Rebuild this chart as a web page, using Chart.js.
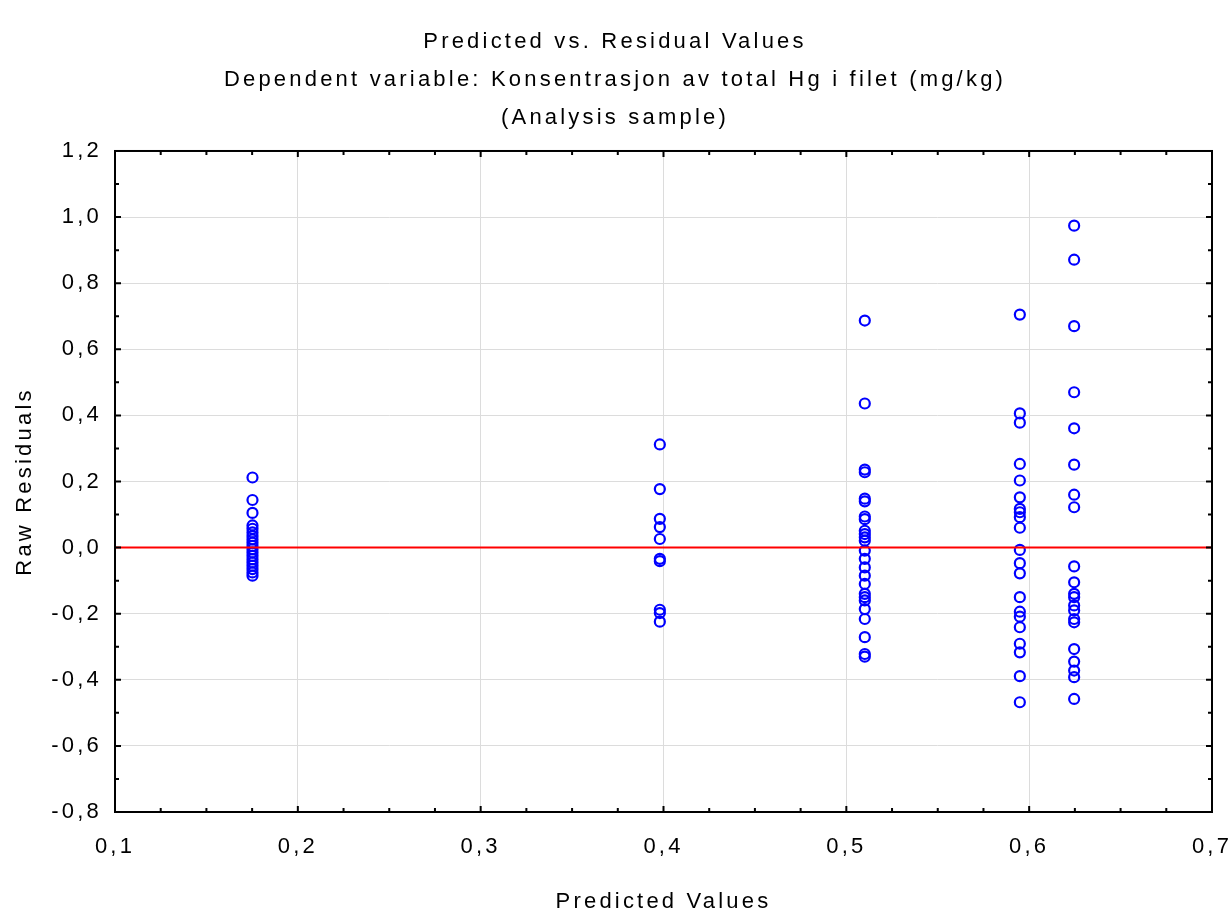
<!DOCTYPE html>
<html>
<head>
<meta charset="utf-8">
<script src="https://cdn.jsdelivr.net/npm/chart.js@4/dist/chart.umd.min.js"></script>
<style>
  html, body { margin: 0; padding: 0; background: #fff; }
  #wrap { width: 1230px; height: 908px; }
</style>
</head>
<body>
<div id="wrap"><canvas id="chart" width="1230" height="908"></canvas></div>
<script>
// predicted value of each group (x) and the raw residuals (y)
const predicted = [0.1752, 0.398, 0.5101, 0.5949, 0.6246];
const resid1 = [0.212, 0.144, 0.105, 0.067, 0.057, 0.046, 0.035, 0.025, 0.015, 0.005, -0.005, -0.015,
  -0.025, -0.035, -0.045, -0.055, -0.065, -0.075, -0.085];
const resid2 = [0.312, 0.177, 0.087, 0.062, 0.026, -0.034, -0.041, -0.188, -0.198, -0.224];
const resid3 = [0.687, 0.436, 0.236, 0.228, 0.148, 0.14, 0.094, 0.086, 0.051, 0.041, 0.031, 0.021,
  -0.009, -0.034, -0.06, -0.085, -0.11, -0.14, -0.15, -0.16, -0.186, -0.216, -0.271, -0.322, -0.33];
const resid4 = [0.705, 0.406, 0.378, 0.253, 0.203, 0.152, 0.117, 0.107, 0.092, 0.06, -0.007, -0.047,
  -0.078, -0.15, -0.194, -0.209, -0.241, -0.291, -0.317, -0.389, -0.468];
const resid5 = [0.974, 0.871, 0.67, 0.47, 0.361, 0.251, 0.16, 0.122, -0.057, -0.105, -0.14, -0.15,
  -0.175, -0.19, -0.216, -0.226, -0.307, -0.345, -0.372, -0.392, -0.458];
const residuals = [resid1, resid2, resid3, resid4, resid5];

const xTicks = [0.1, 0.2, 0.3, 0.4, 0.5, 0.6, 0.7];
const yTicks = [-0.8, -0.6, -0.4, -0.2, 0.0, 0.2, 0.4, 0.6, 0.8, 1.0, 1.2];
const titleLines = [
  'Predicted vs. Residual Values',
  'Dependent variable: Konsentrasjon av total Hg i filet (mg/kg)',
  '(Analysis sample)'
];

const points = [];
predicted.forEach((px, i) => {
  residuals[i].forEach(r => points.push({ x: px, y: r }));
});
const zeroLine = [{ x: xTicks[0], y: 0 }, { x: xTicks[xTicks.length - 1], y: 0 }];

const fmt = v => Number(v).toFixed(1).replace('.', ',');
const FONT = "'Liberation Sans', Arial, sans-serif";

// the original text is drawn wide, so spread the letters a bit
const spacingPlugin = {
  id: 'spacing',
  beforeUpdate(chart) { chart.ctx.letterSpacing = '3.2px'; },
  beforeDraw(chart) { chart.ctx.letterSpacing = '3.2px'; }
};

// black frame with inward major and minor ticks on all four sides
const framePlugin = {
  id: 'frame',
  afterDraw(chart) {
    const { ctx, chartArea: a, scales: { x, y } } = chart;
    ctx.save();
    ctx.strokeStyle = '#000';
    ctx.lineWidth = 2;
    ctx.beginPath();
    for (let i = 0; i < xTicks.length - 1; i++) {
      for (let k = 0; k < 4; k++) {
        const px = x.getPixelForValue(xTicks[i] + k * (xTicks[i + 1] - xTicks[i]) / 4);
        const len = k === 0 ? 6 : 4;
        ctx.moveTo(px, a.bottom); ctx.lineTo(px, a.bottom - len);
        ctx.moveTo(px, a.top); ctx.lineTo(px, a.top + len);
      }
    }
    for (let i = 0; i < yTicks.length - 1; i++) {
      for (let k = 0; k < 2; k++) {
        const py = y.getPixelForValue(yTicks[i] + k * (yTicks[i + 1] - yTicks[i]) / 2);
        const len = k === 0 ? 6 : 4;
        ctx.moveTo(a.left, py); ctx.lineTo(a.left + len, py);
        ctx.moveTo(a.right, py); ctx.lineTo(a.right - len, py);
      }
    }
    ctx.stroke();
    ctx.strokeRect(a.left, a.top, a.right - a.left, a.bottom - a.top);
    ctx.restore();
  }
};

new Chart(document.getElementById('chart'), {
  type: 'scatter',
  data: {
    datasets: [
      {
        type: 'line',
        data: zeroLine,
        borderColor: '#ff0000',
        borderWidth: 2,
        pointRadius: 0,
        order: 0
      },
      {
        data: points,
        borderColor: '#0000ff',
        backgroundColor: 'rgba(0,0,0,0)',
        borderWidth: 2.2,
        pointRadius: 5,
        order: 1
      }
    ]
  },
  options: {
    responsive: false,
    animation: false,
    layout: { padding: { left: 0, right: 0, top: 0, bottom: 0 } },
    plugins: {
      legend: { display: false },
      tooltip: { enabled: false },
      title: {
        display: true,
        text: titleLines,
        color: '#000',
        font: { family: FONT, size: 22, weight: 'normal', lineHeight: 1.727 },
        padding: { top: 23, bottom: 14 }
      }
    },
    scales: {
      x: {
        type: 'linear',
        min: xTicks[0],
        max: xTicks[xTicks.length - 1],
        afterBuildTicks: s => { s.ticks = xTicks.map(v => ({ value: v })); },
        afterFit: s => { s.height = 96; s.paddingLeft = 0; s.paddingRight = 18; },
        grid: { color: '#dcdcdc', lineWidth: 1, drawTicks: false },
        border: { display: false },
        ticks: {
          color: '#000',
          padding: 22,
          font: { family: FONT, size: 22 },
          callback: v => fmt(v)
        },
        title: {
          display: true,
          text: 'Predicted Values',
          color: '#000',
          font: { family: FONT, size: 22 },
          padding: { top: 0, bottom: -7 }
        }
      },
      y: {
        type: 'linear',
        min: yTicks[0],
        max: yTicks[yTicks.length - 1],
        afterBuildTicks: s => { s.ticks = yTicks.map(v => ({ value: v })); },
        afterFit: s => { s.width = 115; },
        grid: { color: '#dcdcdc', lineWidth: 1, drawTicks: false },
        border: { display: false },
        ticks: {
          color: '#000',
          padding: 13,
          font: { family: FONT, size: 22 },
          callback: v => fmt(v)
        },
        title: {
          display: true,
          text: 'Raw Residuals',
          color: '#000',
          font: { family: FONT, size: 22 },
          padding: { top: 12, bottom: 0 }
        }
      }
    }
  },
  plugins: [spacingPlugin, framePlugin]
});
</script>
</body>
</html>
